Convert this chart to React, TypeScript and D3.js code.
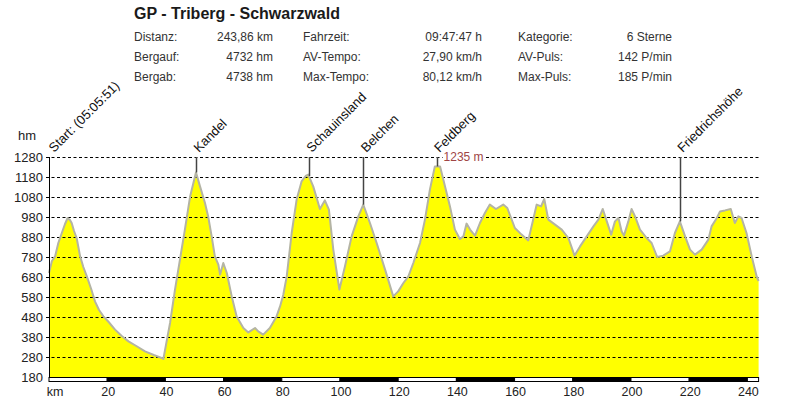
import React from "react";
import * as d3 from "d3";

// elevation profile, km -> hm
const distanceKm = [
    0, 1, 2.1, 3.2, 4.4, 5.5, 6.4, 7.2, 7.8, 8.6, 9.5, 10.7, 11.8, 13, 14.5, 15.8, 17.2, 18.7, 20.5, 22.7,
    25, 27.3, 30, 33, 36, 38.7, 39.3, 39.9, 41.6, 43.3, 45, 46.7, 48.5, 50.5, 51.9, 53.6, 54.7, 55.9, 57,
    58.2, 58.8, 59.9, 61.1, 62.8, 64.5, 66.8, 68.5, 70.8, 71.9, 73.6, 75.9, 78.2, 79.4, 80.5, 81.7, 83.4,
    85.1, 86.8, 88.2, 89.1, 90.8, 93.1, 94.8, 96.2, 97.7, 99.8, 101.7, 104, 106.3, 108, 110.3, 112.6, 115.5,
    118.3, 120, 121.8, 123.5, 125.2, 127.5, 129.2, 130.9, 132.6, 134.4, 136.1, 137.8, 139.5, 141.2, 142.4,
    143.5, 144.7, 146.4, 148.1, 149.8, 151.5, 153.6, 156.1, 157.5, 158.8, 160.1, 162.4, 164.7, 166.4, 167.6,
    169.1, 170.2, 171.6, 173.9, 176.2, 178.5, 180.6, 182.5, 184.8, 187.1, 188.8, 190.3, 191.7, 193.2, 194.5,
    195.7, 196.8, 197.6, 199.1, 200.2, 201.4, 203.1, 205.4, 207.1, 209, 211.1, 213.4, 215.1, 216.8, 218.6,
    220.3, 222, 224.3, 226.6, 227.7, 229.5, 230.6, 232.3, 234.3, 235.7, 236.9, 238, 239.7, 241.5, 243.2, 243.86,
];
const elevationHm = [
    700, 760, 783, 850, 900, 945, 975, 965, 950, 910, 875, 783, 730, 683, 620, 558, 515, 483, 455, 417,
    385, 358, 335, 308, 290, 275, 270, 317, 450, 617, 767, 917, 1083, 1203, 1133, 1050, 983, 883, 783,
    742, 692, 750, 700, 583, 483, 425, 403, 425, 408, 392, 425, 483, 533, 590, 683, 900,
    1067, 1158, 1185, 1192, 1133, 1020, 1063, 1017, 817, 617, 733, 883, 983, 1042, 950, 850, 717,
    583, 608, 650, 683, 750, 850, 967, 1117, 1233, 1233, 1133, 1033, 917, 870, 883,
    947, 917, 887, 950, 1000, 1042, 1020, 1042, 1025, 975, 925, 892, 863, 967, 1042,
    1033, 1070, 967, 942, 917, 875, 787, 833, 883, 933, 967, 1020, 958, 892, 958,
    975, 908, 887, 958, 1020, 983, 917, 875, 850, 780, 787, 808, 900, 958, 883,
    817, 792, 817, 867, 933, 975, 1008, 1013, 1020, 950, 983, 975, 900, 783, 683, 660,
];

const peakNames = ["Kandel", "Schauinsland", "Belchen", "Feldberg", "Friedrichshöhe"];
const peakKm = [50.5, 89.3, 108, 133.2, 216.8];
const startLabel = "Start: (05:05:51)";
const maxLabel = "1235 m";

const yTicks = [180, 280, 380, 480, 580, 680, 780, 880, 980, 1080, 1180, 1280];
const xTicks = [20, 40, 60, 80, 100, 120, 140, 160, 180, 200, 220, 240];

const title = "GP - Triberg - Schwarzwald";
const statLabels = [
    ["Distanz:", "Bergauf:", "Bergab:"],
    ["Fahrzeit:", "AV-Tempo:", "Max-Tempo:"],
    ["Kategorie:", "AV-Puls:", "Max-Puls:"],
];
const statValues = [
    ["243,86 km", "4732 hm", "4738 hm"],
    ["09:47:47 h", "27,90 km/h", "80,12 km/h"],
    ["6 Sterne", "142 P/min", "185 P/min"],
];

const FONT = "'Liberation Sans', Arial, sans-serif";

const App: React.FC = () => {
    const width = 808;
    const height = 398;
    const totalKm = distanceKm[distanceKm.length - 1];

    const x = d3.scaleLinear().domain([0, totalKm]).range([49, 758.6]);
    const y = d3.scaleLinear().domain([180, 1280]).range([377, 157]);

    const points = distanceKm.map((k, i) => ({ k, h: elevationHm[i] }));

    const area = d3
        .area<{ k: number; h: number }>()
        .x((d) => x(d.k))
        .y0(y(180))
        .y1((d) => y(d.h));
    const line = d3
        .line<{ k: number; h: number }>()
        .x((d) => x(d.k))
        .y((d) => y(d.h));

    // elevation at a given km (for the marker lines)
    const elevAt = (k: number) => {
        const i = d3.bisector((d: { k: number }) => d.k).left(points, k);
        if (i <= 0) return points[0].h;
        const a = points[i - 1];
        const b = points[i];
        return a.h + ((b.h - a.h) * (k - a.k)) / (b.k - a.k);
    };

    // alternating km bar, 20 km segments
    const barEdges = [0, ...xTicks, totalKm];
    const statLabelX = [134, 303, 518];
    const statValueX = [273, 482, 672];
    const rowY = [41, 61, 81];
    const maxX = x(peakKm[3]) + 7;

    return (
        <svg
            width={width}
            height={height}
            style={{ position: "absolute", left: 0, top: 0, background: "#fff" }}
            fontFamily={FONT}
        >
            <rect width={width} height={height} fill="#fff" />

            {/* header */}
            <text x={134} y={19} fontSize={16} fontWeight="bold" fill="#1a1a1a">
                {title}
            </text>
            {statLabels.map((col, c) =>
                col.map((t, r) => (
                    <text key={`l${c}${r}`} x={statLabelX[c]} y={rowY[r]} fontSize={12} fill="#333">
                        {t}
                    </text>
                ))
            )}
            {statValues.map((col, c) =>
                col.map((t, r) => (
                    <text
                        key={`v${c}${r}`}
                        x={statValueX[c]}
                        y={rowY[r]}
                        fontSize={12}
                        fill="#333"
                        textAnchor="end"
                    >
                        {t}
                    </text>
                ))
            )}

            {/* profile */}
            <path d={area(points) || ""} fill="#ffff00" />

            {/* grid */}
            {yTicks.slice(1).map((t) => (
                <line
                    key={t}
                    x1={46}
                    x2={x(totalKm)}
                    y1={y(t) + 0.5}
                    y2={y(t) + 0.5}
                    stroke="#000"
                    strokeWidth={1}
                    strokeDasharray="3,2.5"
                />
            ))}

            <path d={line(points) || ""} fill="none" stroke="#b4b4a4" strokeWidth={2} strokeLinejoin="round" />

            {/* y axis */}
            <line x1={49.5} x2={49.5} y1={y(1280)} y2={y(180) + 4} stroke="#000" strokeWidth={1} />
            {yTicks.map((t) => (
                <text
                    key={t}
                    x={43}
                    y={y(t) + 4.5}
                    fontSize={13}
                    fill="#222"
                    textAnchor="end"
                >
                    {t}
                </text>
            ))}
            <text x={27} y={140} fontSize={13} fill="#222" textAnchor="middle">
                hm
            </text>

            {/* km bar */}
            {barEdges.slice(0, -1).map((k, i) => (
                <rect
                    key={k}
                    x={x(k)}
                    y={377.5}
                    width={x(barEdges[i + 1]) - x(k)}
                    height={4}
                    fill={i % 2 === 0 ? "#fff" : "#000"}
                    stroke="#000"
                    strokeWidth={1}
                />
            ))}
            <text x={55} y={396} fontSize={12.5} fill="#222" textAnchor="middle">
                km
            </text>
            {xTicks.map((t) => (
                <text key={t} x={x(t) + 1} y={396} fontSize={12.5} fill="#222" textAnchor="middle">
                    {t}
                </text>
            ))}

            {/* peak markers */}
            {peakKm.map((k, i) => (
                <g key={peakNames[i]}>
                    <line
                        x1={Math.round(x(k)) + 0.5}
                        x2={Math.round(x(k)) + 0.5}
                        y1={y(1280)}
                        y2={y(elevAt(k))}
                        stroke="#444"
                        strokeWidth={1.5}
                    />
                    <text
                        transform={`translate(${x(k) + 3},153) rotate(-45)`}
                        fontSize={13}
                        fill="#111"
                    >
                        {peakNames[i]}
                    </text>
                </g>
            ))}
            <text transform={`translate(${x(0) + 5},153) rotate(-45)`} fontSize={13} fill="#111">
                {startLabel}
            </text>
            <rect x={maxX - 1} y={y(1280) - 5} width={43} height={10} fill="#fff" />
            <text x={maxX} y={161} fontSize={12} fill="#a04545">
                {maxLabel}
            </text>
        </svg>
    );
};

export default App;
